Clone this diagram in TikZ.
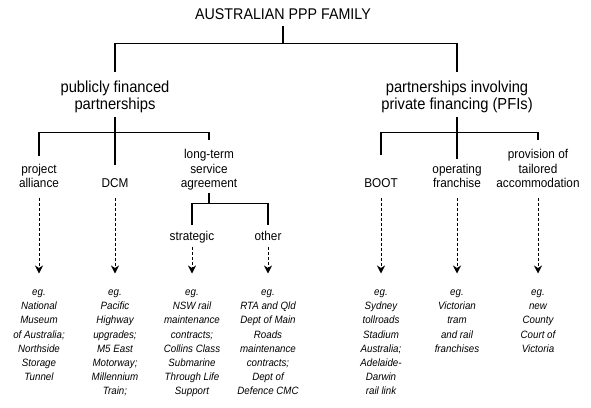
\documentclass[tikz,border=0pt]{standalone}
\usepackage{fontspec}
\setmainfont{Liberation Sans}[FakeStretch=0.92]
\usepackage{tikz}
\usetikzlibrary{arrows.meta,positioning}

\begin{document}
\begin{tikzpicture}[
  x=1pt, y=1pt,
  family/.style={font=\fontsize{15.5}{18}\selectfont, inner sep=0pt, anchor=base},
  branch/.style={font=\fontsize{16}{17.6}\selectfont, align=center, inner sep=0pt},
  leaf/.style={font=\fontsize{12.8}{14.2}\selectfont, align=center, inner sep=0pt,
    execute at end node=\vphantom{g}},
  example/.style={font=\fontsize{10.6}{14.2}\selectfont\itshape, align=center,
    inner sep=0pt, anchor=north},
  tree/.style={draw=black, line width=1.4pt},
  hint/.style={-{Stealth[length=8pt, width=8pt, inset=2.5pt]}, line width=1pt,
    dash pattern=on 3pt off 2pt, shorten <=7.5pt, shorten >=16pt}
]
\useasboundingbox (0,0) rectangle (591,-407);
\node[family] (title) at (283,-19.5) {AUSTRALIAN PPP FAMILY};
\node[branch, below=60.5pt of title, xshift=-168pt] (pub) {publicly financed\\partnerships};
\node[branch, below=60.5pt of title, xshift=174pt] (pfi) {partnerships involving\\private financing (PFIs)};
\node[example] (egalliance) at (39,-289.5) {eg.\\National\\Museum\\of Australia;\\Northside\\Storage\\Tunnel};
\node[example] (egdcm) at (115,-289.5) {eg.\\Pacific\\Highway\\upgrades;\\M5 East\\Motorway;\\Millennium\\Train;};
\node[example] (egstrategic) at (192,-289.5) {eg.\\NSW rail\\maintenance\\contracts;\\Collins Class\\Submarine\\Through Life\\Support};
\node[example] (egother) at (268,-289.5) {eg.\\RTA and Qld\\Dept of Main\\Roads\\maintenance\\contracts;\\Dept of\\Defence CMC};
\node[example] (egboot) at (381,-289.5) {eg.\\Sydney\\tollroads\\Stadium\\Australia;\\Adelaide-\\Darwin\\rail link};
\node[example] (egfranchise) at (457,-289.5) {eg.\\Victorian\\tram\\and rail\\franchises};
\node[example] (egprovision) at (538,-289.5) {eg.\\new\\County\\Court of\\Victoria};
\node[leaf, above=99.3pt of egalliance] (alliance) {project\\alliance};
\node[leaf, above=99.3pt of egdcm] (dcm) {DCM};
\node[leaf, above=99.3pt of egstrategic, xshift=17pt] (longterm) {long-term\\service\\agreement};
\node[leaf, above=46.1pt of egstrategic] (strategic) {strategic};
\node[leaf, above=46.1pt of egother] (other) {other};
\node[leaf, above=99.3pt of egboot] (boot) {BOOT};
\node[leaf, above=99.3pt of egfranchise] (franchise) {operating\\franchise};
\node[leaf, above=99.3pt of egprovision] (provision) {provision of\\tailored\\accommodation};
\coordinate (topjoin) at ([yshift=-23.5pt]title.south);
\coordinate (pubjoin) at ([yshift=-19pt]pub.south);
\coordinate (pfijoin) at ([yshift=-19pt]pfi.south);
\coordinate (ltjoin) at ([yshift=-13pt]longterm.south);
\draw[tree, shorten <=6.5pt] (title) -- (topjoin);
\draw[tree, shorten <=8pt, shorten >=8pt] (pub) |- (topjoin) -| (pfi);
\draw[tree, shorten <=4pt, shorten >=13pt] (pub) -- (dcm);
\draw[tree, shorten <=8pt, shorten >=9pt] (alliance) |- (pubjoin) -| (longterm);
\draw[tree, shorten <=4pt, shorten >=5pt] (pfi) -- (franchise);
\draw[tree, shorten <=23pt, shorten >=9pt] (boot) |- (pfijoin) -| (provision);
\draw[tree, shorten <=3pt] (longterm) -- (ltjoin);
\draw[tree, shorten <=6.5pt, shorten >=6.5pt] (strategic) |- (ltjoin) -| (other);
\draw[hint] (alliance) -- (egalliance);
\draw[hint] (dcm) -- (egdcm);
\draw[hint, shorten <=3.5pt] (strategic) -- (egstrategic);
\draw[hint, shorten <=3.5pt] (other) -- (egother);
\draw[hint] (boot) -- (egboot);
\draw[hint] (franchise) -- (egfranchise);
\draw[hint] (provision) -- (egprovision);
\end{tikzpicture}
\end{document}
